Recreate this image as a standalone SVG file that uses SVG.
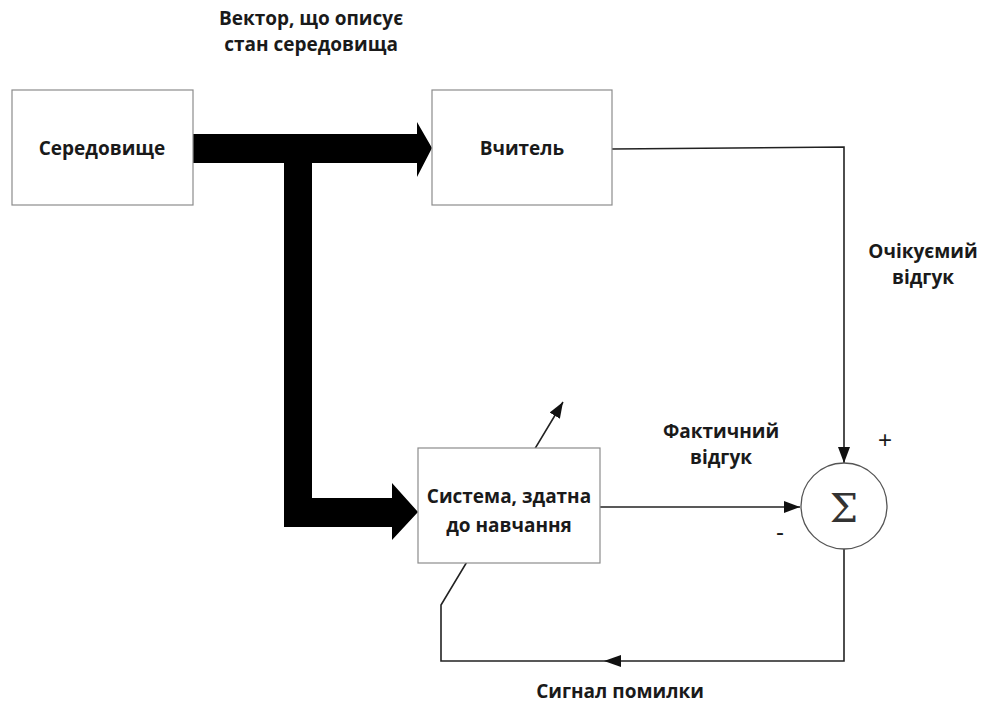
<svg xmlns="http://www.w3.org/2000/svg" width="981" height="703" viewBox="0 0 981 703">
  <style>
    .box { fill: #ffffff; stroke: #8c8c8c; stroke-width: 1.2; }
    .lbl { font-family: "Open Sans", "Liberation Sans", sans-serif; font-weight: 700; font-size: 19px; fill: #1a1a1a; text-anchor: middle; }
    .wire { fill: none; stroke: #222222; stroke-width: 1.6; }
    .bus { fill: #000000; stroke: none; }
    .sign { font-family: "Liberation Sans", sans-serif; font-size: 24px; fill: #1a1a1a; text-anchor: middle; }
  </style>
  <defs>
    <marker id="arrowL" viewBox="0 0 16 12" refX="16" refY="6" markerWidth="16" markerHeight="12" markerUnits="userSpaceOnUse" orient="auto">
      <path d="M0,0 L16,6 L0,12 Z" fill="#111111"/>
    </marker>
  </defs>

  <!-- connectors -->
  <g id="connectors">
    <!-- thick state-vector bus: to the teacher and down to the learning system -->
    <path class="bus" d="M193,134 L417,134 L417,122 L432,148 L417,177 L417,163 L312,163 L312,498 L392,498 L392,483 L418,512 L392,540 L392,527 L284,527 L284,163 L193,163 Z"/>
    <!-- expected response -->
    <path class="wire" d="M612,149 L844,147 L844,463" marker-end="url(#arrowL)"/>
    <!-- actual response -->
    <path class="wire" d="M600,507 L800,507" marker-end="url(#arrowL)"/>
    <!-- error signal feedback -->
    <path class="wire" d="M844,548 L844,661 L441,661 L441,605 L563,402" marker-end="url(#arrowL)"/>
    <path d="M621,655 L604,661 L621,667 Z" fill="#111111"/>
  </g>

  <g id="environment">
    <rect class="box" x="12" y="90" width="181" height="115"/>
    <text class="lbl" x="102" y="155">Середовище</text>
  </g>

  <g id="teacher">
    <rect class="box" x="432" y="90" width="180" height="115"/>
    <text class="lbl" x="522" y="155">Вчитель</text>
  </g>

  <g id="learner">
    <rect class="box" x="418" y="448" width="182" height="115"/>
    <text class="lbl" x="509" y="503">Система, здатна</text>
    <text class="lbl" x="509" y="532">до навчання</text>
  </g>

  <g id="summer">
    <circle cx="844" cy="506" r="43" fill="#ffffff" stroke="#555555" stroke-width="1.3"/>
    <text x="844" y="522" font-family="'DejaVu Serif', 'Liberation Serif', serif" font-size="40" fill="#333333" text-anchor="middle">Σ</text>
  </g>

  <g id="labels">
    <text class="lbl" x="311" y="25">Вектор, що описує</text>
    <text class="lbl" x="311" y="51">стан середовища</text>
    <text class="lbl" x="721" y="438">Фактичний</text>
    <text class="lbl" x="721" y="464">відгук</text>
    <text class="lbl" x="923" y="258">Очікуємий</text>
    <text class="lbl" x="923" y="284">відгук</text>
    <text class="lbl" x="620" y="698">Сигнал помилки</text>
    <text class="sign" x="885" y="448">+</text>
    <text class="sign" x="780" y="540">-</text>
  </g>
</svg>
